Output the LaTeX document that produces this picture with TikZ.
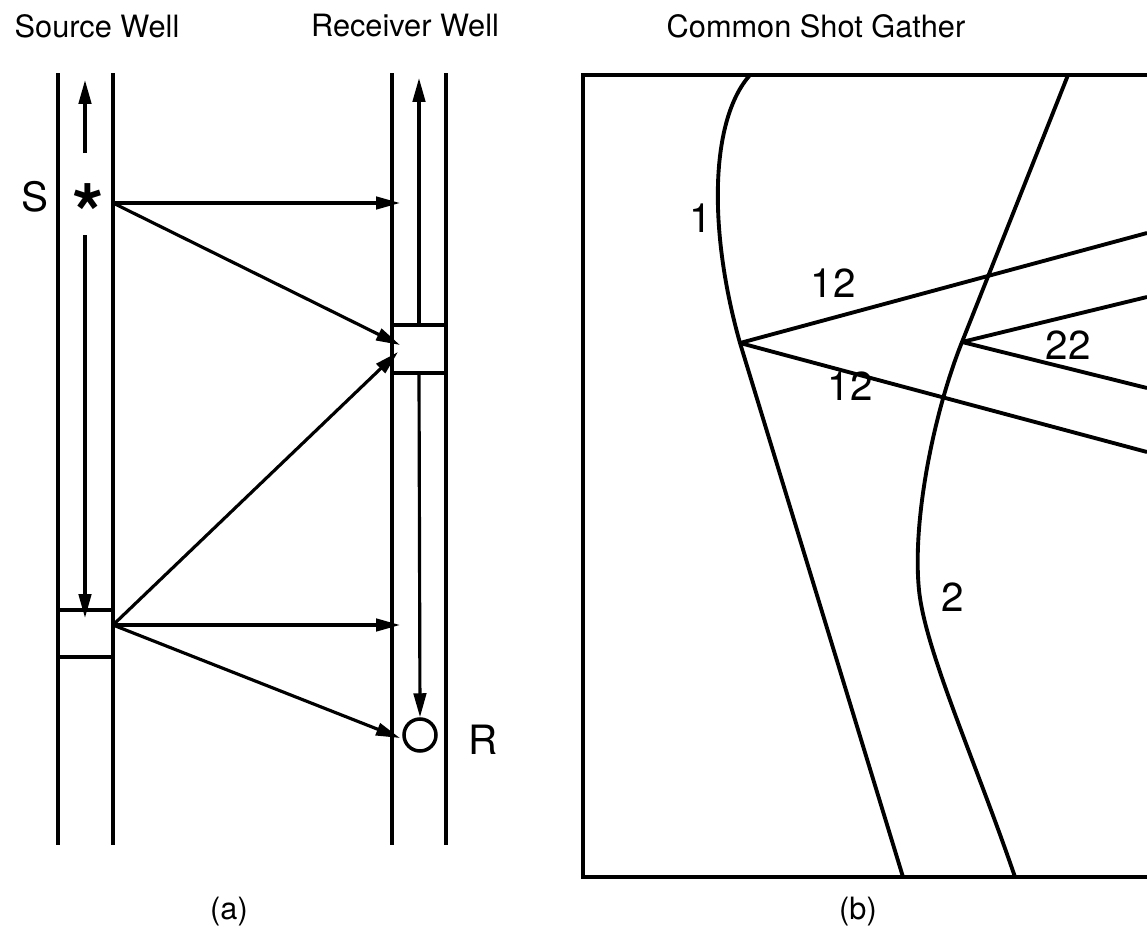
\documentclass[tikz,border=0pt]{standalone}
\usepackage{fontspec}
\setmainfont{TeX Gyre Heros}
\usetikzlibrary{arrows.meta, positioning}

\begin{document}
\begin{tikzpicture}[
    x=0.02cm, y=-0.02cm,
    well/.style={line width=2.2pt},
    wbox/.style={rectangle, draw, line width=2.2pt, inner sep=0pt, minimum width=1.1cm, minimum height=0.95cm},
    arrow/.style={-{Triangle[length=0.48cm, width=0.25cm]}, line width=1.8pt},
    trace/.style={line width=2.2pt},
    lbl/.style={font=\fontsize{17.5}{20}\selectfont},
    num/.style={font=\fontsize{23}{26}\selectfont}
  ]
    \useasboundingbox (0,0) rectangle (1147,950);

    % (a) the two wells
    \draw[well] (58,73) -- (58,845);
    \draw[well] (113,73) -- (113,845);
    \draw[well] (392,73) -- (392,845);
    \draw[well] (446,73) -- (446,845);

    \node[wbox] (sbox) at (85.5,633.5) {};
    \node[wbox, minimum width=1.08cm] (rbox) at (419,349) {};
    \node[font=\fontsize{46}{46}\selectfont\bfseries, inner sep=0pt] (src) at (88,213) {*};
    \node[draw, circle, line width=2pt, minimum size=0.64cm, inner sep=0pt] (rcv) at (420,735) {};

    \coordinate (stop) at (85,80);
    \coordinate (sup0) at (85,153);
    \coordinate (sdn0) at (85,235);
    \coordinate (sbot) at (85,618);
    \coordinate (rtop) at (419,78);
    \coordinate (s0) at (113,203);
    \coordinate (b0) at (113,625);
    \coordinate (hit1) at (400,203);
    \coordinate (hit2) at (400,345);
    \coordinate (hit3) at (398,352);
    \coordinate (hit4) at (400,625);
    \coordinate (hit5) at (400,738);

    \draw[arrow] (sup0) -- (stop);
    \draw[arrow] (sdn0) -- (sbot);
    \draw[arrow] (rbox.north) -- (rtop);
    \draw[arrow] (rbox.south) -- (rcv.north);

    \draw[arrow] (s0) -- (hit1);
    \draw[arrow] (s0) -- (hit2);
    \draw[arrow] (b0) -- (hit3);
    \draw[arrow] (b0) -- (hit4);
    \draw[arrow] (b0) -- (hit5);

    \node[lbl] (srcwell) at (97,26) {Source Well};
    \node[lbl] (rcvwell) at (405,26) {Receiver Well};
    \node[num] (slbl) at (35,197) {S};
    \node[num] (rlbl) at (483,740) {R};
    \node[lbl] (pa) at (229,912) {(a)};

    % (b) the gather
    \coordinate (v1) at (740,343);
    \coordinate (v2) at (962,342);
    \draw[trace] (1147,75) -- (583,75) -- (583,877) -- (1147,877);
    \draw[trace] (750,75) .. controls (710,120) and (708,230) .. (v1) -- (903,877);
    \draw[trace] (1068,75) -- (v2) .. controls (934,412) and (912,520) .. (919,590)
      .. controls (925,650) and (975,760) .. (1015,877);
    \draw[trace] (v1) -- (1147,233);
    \draw[trace] (v1) -- (1147,452);
    \draw[trace] (v2) -- (1147,297);
    \draw[trace] (v2) -- (1147,388);

    \node[lbl] (csg) at (816,26) {Common Shot Gather};
    \node[num] (t1) at (701,218) {1};
    \node[num] (t12a) at (833,283) {12};
    \node[num] (t12b) at (850,386) {12};
    \node[num] (t22) at (1068,345) {22};
    \node[num] (t2) at (953,597) {2};
    \node[lbl] (pb) at (858,912) {(b)};
\end{tikzpicture}
\end{document}
